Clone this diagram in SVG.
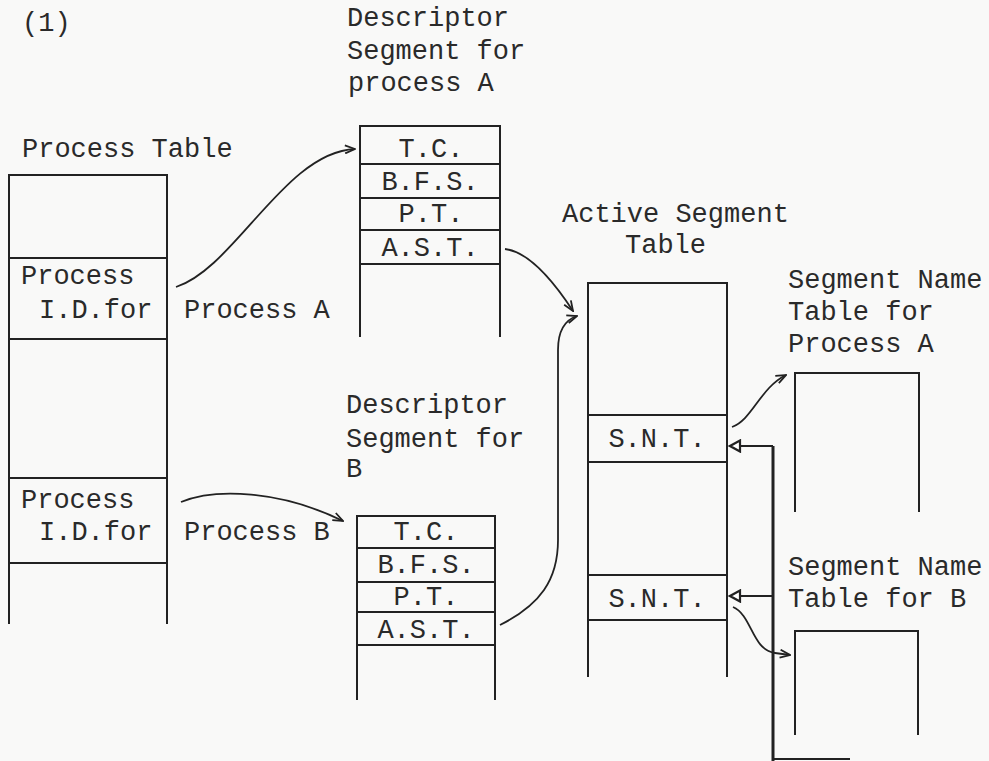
<svg xmlns="http://www.w3.org/2000/svg" width="989" height="761" viewBox="0 0 989 761">
<defs>
<style>
.t{font-family:"Liberation Mono","Courier New",monospace;font-size:27px;fill:#2a2a2a}
.c{text-anchor:middle}
.b{fill:none;stroke:#222;stroke-width:2}
.a{fill:none;stroke:#222;stroke-width:1.8}
</style>
<marker id="v" viewBox="0 0 12 10" refX="11" refY="5" markerWidth="12" markerHeight="10" markerUnits="userSpaceOnUse" orient="auto">
<path d="M1,1 L11,5 L1,9" fill="none" stroke="#222" stroke-width="1.8"/>
</marker>
<marker id="tri" viewBox="0 0 14 14" refX="12" refY="7" markerWidth="14" markerHeight="14" markerUnits="userSpaceOnUse" orient="auto">
<path d="M2,1.5 L12,7 L2,12.5 Z" fill="#fff" stroke="#222" stroke-width="2.2"/>
</marker>
</defs>
<rect width="989" height="761" fill="#f9f9f8"/>
<text class="t" x="22" y="31">(1)</text>
<g id="process-table">
<text class="t" x="22" y="157">Process Table</text>
<path class="b" d="M9,624 V175 H167 V624 M9,258 H167 M9,339 H167 M9,478 H167 M9,563 H167"/>
<text class="t" x="21" y="284">Process</text>
<text class="t" x="39" y="318">I.D.for</text>
<text class="t" x="184" y="318">Process A</text>
<text class="t" x="21" y="508">Process</text>
<text class="t" x="39" y="540">I.D.for</text>
<text class="t" x="184" y="540">Process B</text>
</g>
<g id="descriptor-a">
<text class="t" x="347" y="26">Descriptor</text>
<text class="t" x="347" y="59">Segment for</text>
<text class="t" x="348" y="91">process A</text>
<path class="b" d="M360,337 V126 H500 V337 M360,164 H500 M360,198 H500 M360,230 H500 M360,264 H500"/>
<text class="t c" x="431" y="157">T.C.</text>
<text class="t c" x="430" y="190">B.F.S.</text>
<text class="t c" x="431" y="222">P.T.</text>
<text class="t c" x="430" y="256">A.S.T.</text>
</g>
<g id="descriptor-b">
<text class="t" x="346" y="413">Descriptor</text>
<text class="t" x="346" y="447">Segment for</text>
<text class="t" x="346" y="477">B</text>
<path class="b" d="M357,700 V516 H495 V700 M357,548 H495 M357,582 H495 M357,612 H495 M357,645 H495"/>
<text class="t c" x="426" y="540">T.C.</text>
<text class="t c" x="426" y="573">B.F.S.</text>
<text class="t c" x="426" y="605">P.T.</text>
<text class="t c" x="426" y="638">A.S.T.</text>
</g>
<g id="active-segment-table">
<text class="t" x="562" y="222">Active Segment</text>
<text class="t" x="625" y="253">Table</text>
<path class="b" d="M588,677 V283 H727 V677 M588,415 H727 M588,462 H727 M588,575 H727 M588,620 H727"/>
<text class="t c" x="657" y="447">S.N.T.</text>
<text class="t c" x="657" y="607">S.N.T.</text>
</g>
<g id="snt-a">
<text class="t" x="788" y="288">Segment Name</text>
<text class="t" x="788" y="320">Table for</text>
<text class="t" x="788" y="352">Process A</text>
<path class="b" d="M795,512 V373 H919 V512"/>
</g>
<g id="snt-b">
<text class="t" x="788" y="575">Segment Name</text>
<text class="t" x="788" y="607">Table for B</text>
<path class="b" d="M795,735 V631 H918 V735"/>
</g>
<g id="connectors">
<path class="a" d="M176,287 C235,268 285,152 355,149" marker-end="url(#v)"/>
<path class="a" d="M181,502 C215,488 280,490 343,521" marker-end="url(#v)"/>
<path class="a" d="M505,249 C530,252 556,285 573,311" marker-end="url(#v)"/>
<path class="a" d="M500,625 C540,605 558,580 558,540 L558,350 C558,330 565,320 577,316" marker-end="url(#v)"/>
<path class="a" d="M732,427 C752,420 760,388 786,375" marker-end="url(#v)"/>
<path class="a" d="M733,607 C752,615 752,650 775,653 L790,655" marker-end="url(#v)"/>
<path d="M773,446 V761" fill="none" stroke="#222" stroke-width="3"/>
<path class="b" d="M773,446 H730" marker-end="url(#tri)"/>
<path class="b" d="M773,596 H730" marker-end="url(#tri)"/>
<path d="M773,759 H850" fill="none" stroke="#222" stroke-width="2"/>
</g>
</svg>
